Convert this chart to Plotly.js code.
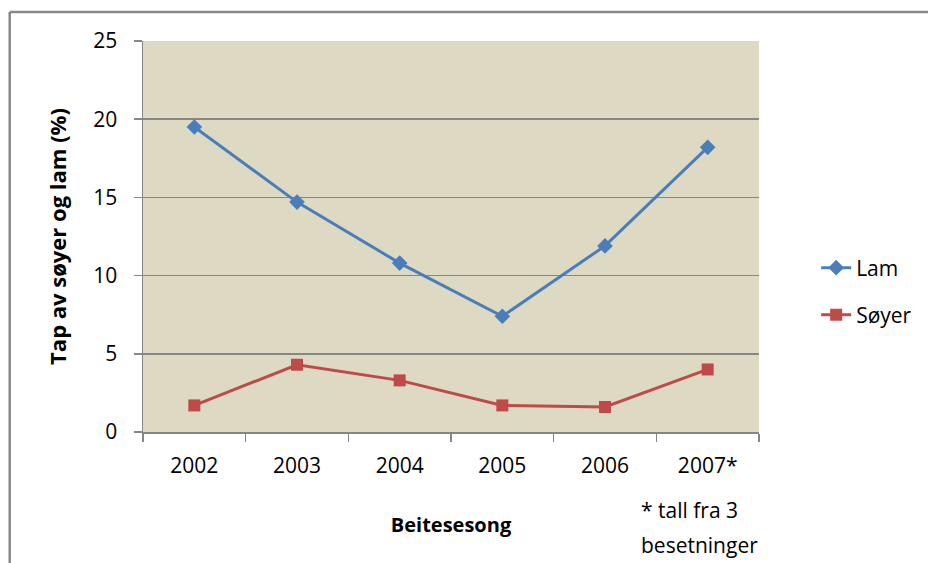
<!DOCTYPE html>
<html>
<head>
<meta charset="utf-8">
<script src="https://cdn.plot.ly/plotly-3.0.1.min.js"></script>
<style>html,body{margin:0;padding:0;background:#fff;}#chart{width:928px;height:563px;}</style>
</head>
<body>
<div id="chart"></div>
<script>
const seasons = ["2002", "2003", "2004", "2005", "2006", "2007*"];
const lam = [19.5, 14.7, 10.8, 7.4, 11.9, 18.2];
const soyer = [1.7, 4.3, 3.3, 1.7, 1.6, 4.0];
const seriesNames = ["Lam", "Søyer"];
const yTitle = "Tap av søyer og lam (%)";
const xTitle = "Beitesesong";
const noteLines = ["* tall fra 3", "besetninger"];

const FONT = "Open Sans, Noto Sans, sans-serif";
const AXC = "#868686";

const traces = [
  {x: seasons, y: lam, name: seriesNames[0], type: "scatter", mode: "lines+markers",
   line: {color: "#4A7EBB", width: 3}, marker: {symbol: "diamond", size: 12, color: "#4A7EBB"},
   legend: "legend"},
  {x: seasons, y: soyer, name: seriesNames[1], type: "scatter", mode: "lines+markers",
   line: {color: "#BE4B48", width: 3}, marker: {symbol: "square", size: 12, color: "#BE4B48"},
   legend: "legend2"}
];

const legendBase = {xanchor: "left", yanchor: "middle", bgcolor: "rgba(0,0,0,0)",
  font: {family: FONT, size: 21, color: "#000"}};

const layout = {
  width: 928, height: 563,
  margin: {l: 143, r: 168, t: 41, b: 131},
  paper_bgcolor: "#fff", plot_bgcolor: "#DDD9C3",
  font: {family: FONT, color: "#000"},
  xaxis: {type: "category", range: [-0.5, 5.5], tickson: "boundaries", ticks: "outside", ticklen: 8,
    tickcolor: AXC, tickwidth: 1.5, showline: true, linecolor: AXC, linewidth: 1.5, showgrid: false,
    tickfont: {family: FONT, size: 21}, ticklabelstandoff: 14, fixedrange: true,
    title: {text: xTitle, font: {family: FONT, size: 20, weight: "bold"}, standoff: 40}},
  yaxis: {range: [0, 25], dtick: 5, ticks: "outside", ticklen: 8, tickcolor: AXC, tickwidth: 1.5,
    showline: true, linecolor: AXC, linewidth: 1.5, showgrid: true, gridcolor: AXC, gridwidth: 1.5,
    zeroline: false, tickfont: {family: FONT, size: 21}, ticklabelstandoff: 12, fixedrange: true,
    title: {text: yTitle, font: {family: FONT, size: 22, weight: "bold"}, standoff: 20}},
  legend: Object.assign({x: 1.091, y: 0.4194}, legendBase),
  legend2: Object.assign({x: 1.091, y: 0.299}, legendBase),
  annotations: [
    {xref: "paper", yref: "paper", x: 0.8055, y: -0.199, xanchor: "left", yanchor: "middle",
     align: "left", showarrow: false, text: noteLines[0], font: {family: FONT, size: 21, color: "#000"}},
    {xref: "paper", yref: "paper", x: 0.8055, y: -0.289, xanchor: "left", yanchor: "middle",
     align: "left", showarrow: false, text: noteLines[1], font: {family: FONT, size: 21, color: "#000"}}
  ],
  shapes: [
    {type: "line", xref: "paper", yref: "paper", x0: -0.2164, x1: -0.2164, y0: 1.0742, y1: -2,
     line: {color: "#898989", width: 2.5}},
    {type: "line", xref: "paper", yref: "paper", x0: -0.2164, x1: 2, y0: 1.0742, y1: 1.0742,
     line: {color: "#898989", width: 2.5}}
  ],
  showlegend: true
};

Plotly.newPlot("chart", traces, layout, {displayModeBar: false, staticPlot: true});
</script>
</body>
</html>
